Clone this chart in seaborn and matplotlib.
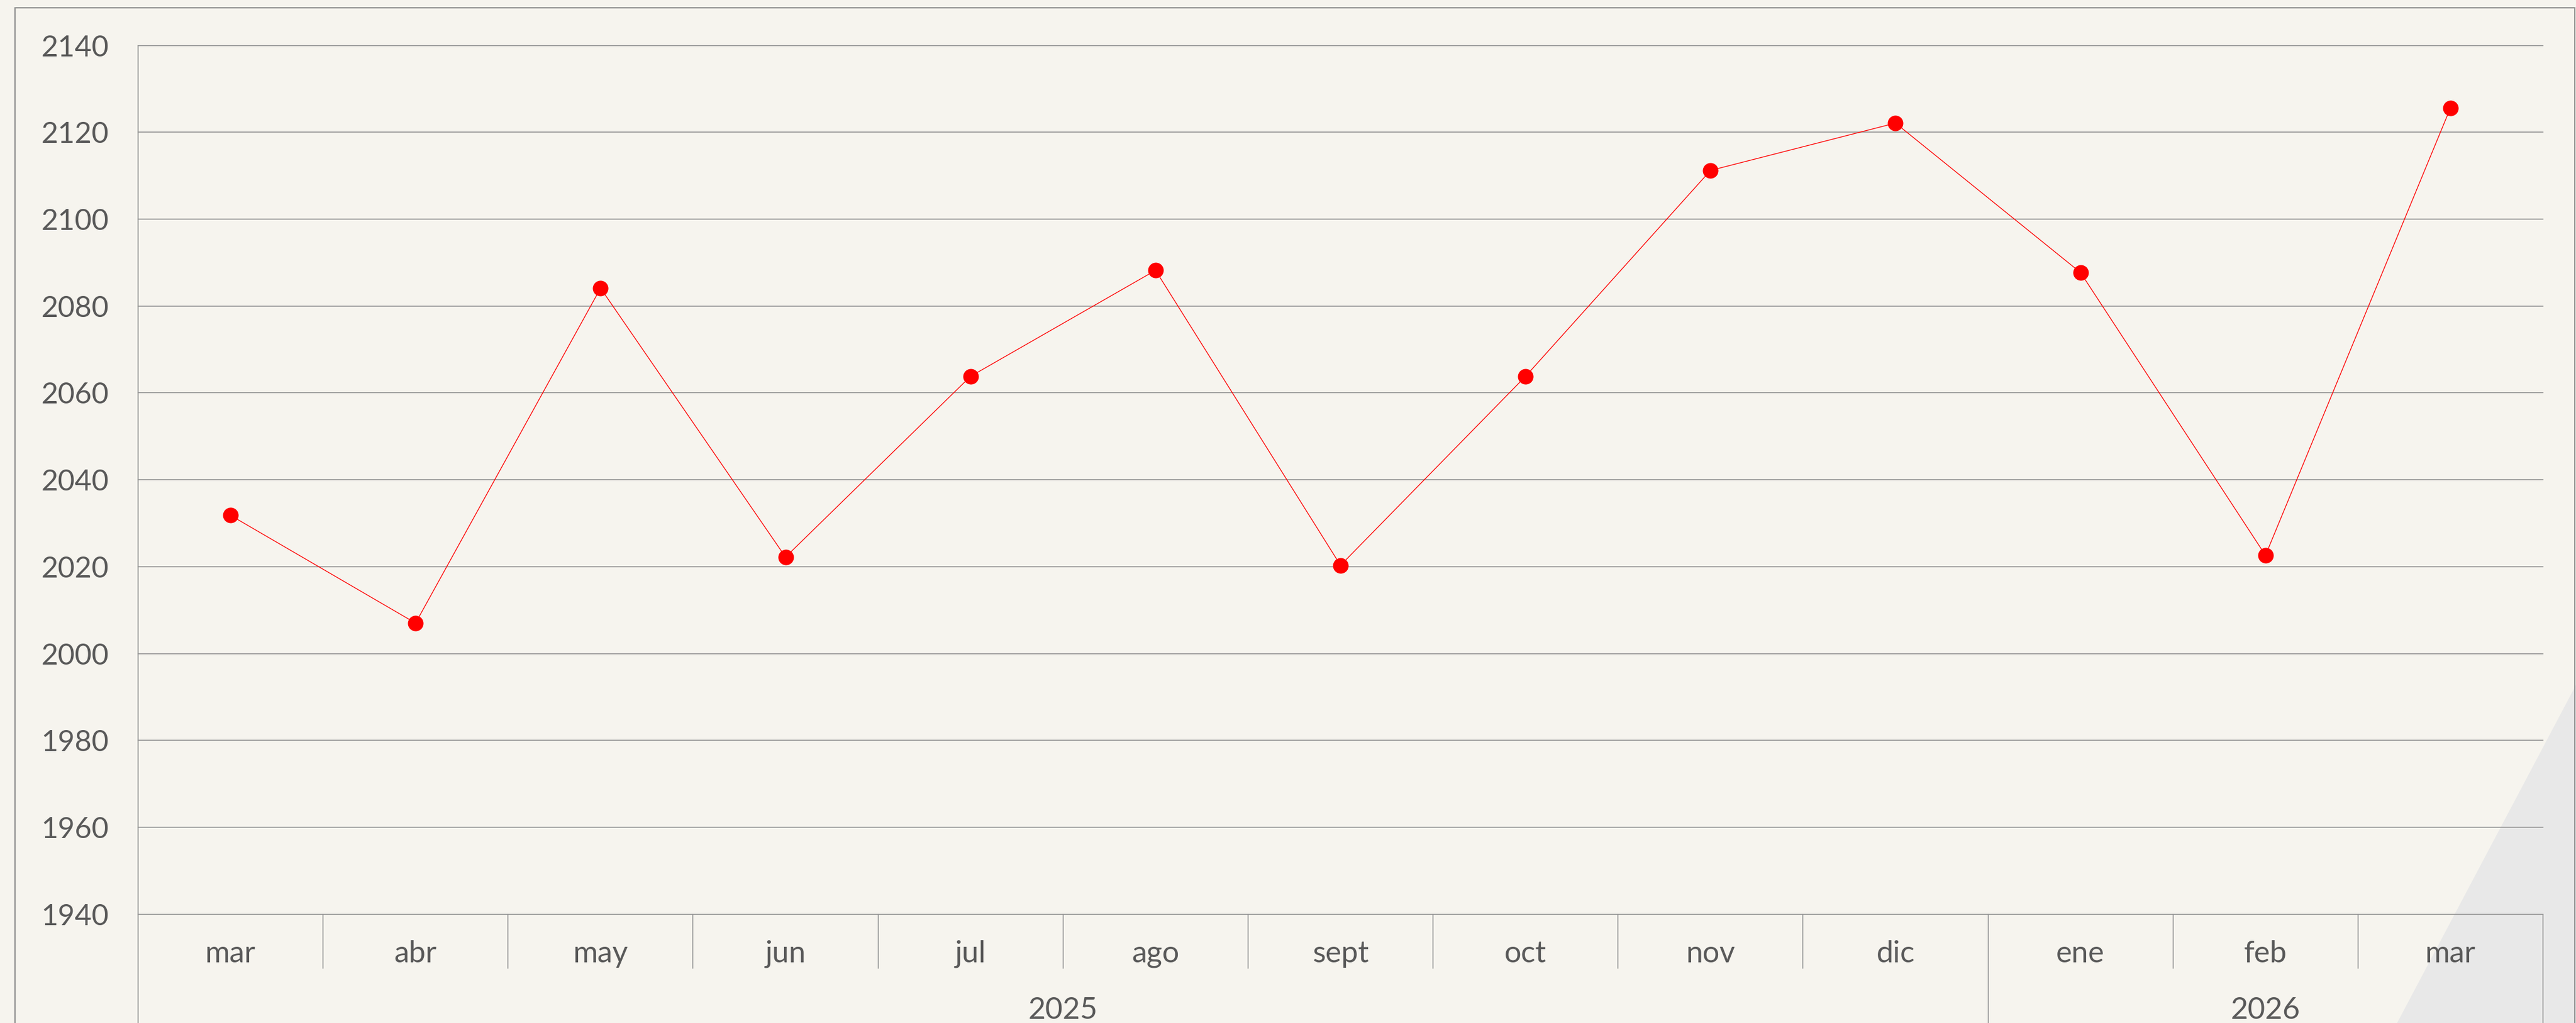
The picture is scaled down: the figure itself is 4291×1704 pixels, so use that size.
import numpy as np
import pandas as pd
import matplotlib
matplotlib.use("Agg")
import matplotlib.pyplot as plt
from matplotlib.patches import Polygon, Rectangle
from matplotlib.transforms import blended_transform_factory
import seaborn as sns

# ---- data ----
months = ["mar", "abr", "may", "jun", "jul", "ago", "sept", "oct", "nov", "dic", "ene", "feb", "mar"]
years = ["2025"] * 10 + ["2026"] * 3
values = [2031.8, 2007.0, 2084.1, 2022.2, 2063.8, 2088.2, 2020.3, 2063.8, 2111.2, 2122.1, 2087.7, 2022.6, 2125.6]
y_ticks = [1940, 1960, 1980, 2000, 2020, 2040, 2060, 2080, 2100, 2120, 2140]

df = pd.DataFrame({"pos": np.arange(len(values)), "month": months, "year": years, "value": values})

# ---- style ----
BG = "#F6F4EE"
GRID = "#949494"
TXT = "#595959"
RED = "#FF0000"

sns.set_theme(style="white")
plt.rcParams["font.family"] = ["Lato", "DejaVu Sans"]

W, H, DPI = 4291, 1704, 100
fig = plt.figure(figsize=(W / DPI, H / DPI), dpi=DPI, facecolor=BG)

# light grey wedge in the lower right corner (behind everything)
tri = Polygon([(1.0, 1 - 1141 / H), (3993 / W, 0.0), (1.0, 0.0)], closed=True,
              transform=fig.transFigure, facecolor="#E8E8E8", edgecolor="none", zorder=0)
fig.patches.append(tri)

# outer frame
frame = Rectangle((25 / W, -0.05), (4289 - 25) / W, 1.05 - 13 / H, transform=fig.transFigure,
                  facecolor="none", edgecolor="#8C8C8C", linewidth=1.5, zorder=1)
fig.patches.append(frame)

ax_l, ax_r = 230 / W, 4236 / W
ax_top, ax_bot = 1 - 75.5 / H, 1 - 1522.7 / H
ax = fig.add_axes([ax_l, ax_bot, ax_r - ax_l, ax_top - ax_bot])
ax.set_facecolor("none")
ax.set_zorder(3)
AX_H_PX = (ax_top - ax_bot) * H

# horizontal grid lines at each tick
for t in y_ticks:
    ax.axhline(t, color=GRID, linewidth=1.2, zorder=1, clip_on=False)

sns.lineplot(data=df, x="pos", y="value", ax=ax, color=RED, linewidth=0.95,
             marker="o", markersize=18.7, markeredgewidth=0, markerfacecolor=RED, zorder=3)

ax.set_xlim(-0.5, len(values) - 0.5)
ax.set_ylim(y_ticks[0], y_ticks[-1])
ax.set_yticks(y_ticks)
ax.set_yticklabels([str(t) for t in y_ticks])
ax.set_xticks([])
ax.set_xlabel("")
ax.set_ylabel("")
ax.tick_params(axis="y", length=13, width=1.1, color=GRID, pad=22, labelsize=35, labelcolor=TXT)

for s in ["top", "right", "bottom", "left"]:
    ax.spines[s].set_visible(False)

trans = blended_transform_factory(ax.transData, ax.transAxes)
def px(v):
    return v / AX_H_PX

# left axis line running from top down through the category area
ax.plot([-0.5, -0.5], [1, -px(250)], transform=trans, color=GRID, linewidth=1.2, clip_on=False, zorder=2)

# category separators: short ones between months, long ones at year boundaries
year_bounds = [-0.5]
for i in range(1, len(years)):
    if years[i] != years[i - 1]:
        year_bounds.append(i - 0.5)
year_bounds.append(len(years) - 0.5)

for b in np.arange(0.5, len(months) - 0.5, 1.0):
    if b in year_bounds:
        continue
    ax.plot([b, b], [0, -px(90)], transform=trans, color=GRID, linewidth=1.1, clip_on=False, zorder=2)
for b in year_bounds[1:]:
    ax.plot([b, b], [0, -px(250)], transform=trans, color=GRID, linewidth=1.1, clip_on=False, zorder=2)

# month labels
for p, m in zip(df["pos"], df["month"]):
    ax.text(p, -px(66), m, transform=trans, ha="center", va="center", fontsize=36, color=TXT)

# year labels centred under their months
for y in dict.fromkeys(years):
    idx = [i for i, v in enumerate(years) if v == y]
    ax.text((idx[0] + idx[-1]) / 2, -px(160), y, transform=trans, ha="center", va="center",
            fontsize=36, color=TXT)

fig.savefig("out.png", dpi=DPI, facecolor=BG)
